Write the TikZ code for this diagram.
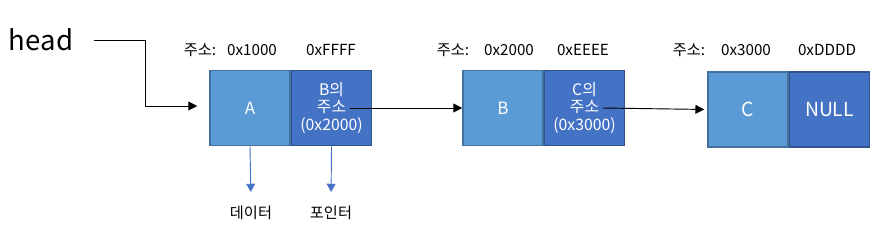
\documentclass[tikz,border=0pt]{standalone}
\usepackage{fontspec}
\setmainfont{Noto Sans CJK KR}
\usetikzlibrary{arrows.meta, positioning}

\definecolor{cellA}{HTML}{5B9BD5}
\definecolor{cellB}{HTML}{4472C4}
\definecolor{edgeA}{HTML}{41719C}
\definecolor{edgeB}{HTML}{2F528F}

\tikzset{
  datacell/.style={draw=edgeA, fill=cellA, line width=1.3pt, minimum width=2.4cm,
    minimum height=2.25cm, text=white, font=\fontsize{14.5}{16}\selectfont},
  ptrcell/.style={draw=edgeB, fill=cellB, line width=1.3pt, minimum width=2.4cm,
    minimum height=2.25cm, text=white, align=center, inner sep=0pt,
    font=\fontsize{13.5}{15.3}\selectfont},
  addr/.style={font=\fontsize{13}{15}\selectfont},
  note/.style={font=\fontsize{13}{15}\selectfont},
  link/.style={-{Triangle[length=7.5pt,width=7.5pt]}, line width=0.8pt},
  downlink/.style={-{Triangle[length=7pt,width=7.5pt]}, draw=cellB, line width=0.8pt}
}

\begin{document}
\begin{tikzpicture}[x=0.03cm, y=-0.03cm]
\useasboundingbox (0,0) rectangle (886,244);

\node[font=\fontsize{23.5}{26}\selectfont] (head) at (41,40) {head};

% node A
\node[datacell] (dA) at (250,108) {A};
\node[ptrcell, right=0pt of dA] (pA) {B의\\주소\\(0x2000)};
% node B
\node[datacell] (dB) at (503,108) {B};
\node[ptrcell, right=0pt of dB] (pB) {C의\\주소\\(0x3000)};
% node C
\node[datacell, font=\fontsize{16.5}{18}\selectfont] (dC) at (748,109.5) {C};
\node[ptrcell, right=0pt of dC, font=\fontsize{16.5}{18}\selectfont] (pC) {NULL};

% addresses
\node[addr] (kA) at (200,50) {주소:};
\node[addr] (aA) at (252,50) {0x1000};
\node[addr] (bA) at (331,50) {0xFFFF};
\node[addr] (kB) at (453,50) {주소:};
\node[addr] (aB) at (509,50) {0x2000};
\node[addr] (bB) at (583,50) {0xEEEE};
\node[addr] (kC) at (689,50) {주소:};
\node[addr] (aC) at (746,50) {0x3000};
\node[addr] (bC) at (827,50) {0xDDDD};

% links
\coordinate (hs) at (94,40);
\draw[link, shorten >=0.36cm] (hs) -| ([xshift=-1.92cm, yshift=0.06cm]dA.west) -- ([yshift=0.06cm]dA.west);
\coordinate (sA) at ([xshift=0.54cm]pA.center);
\draw[link] (sA) -- (dB.west);
\coordinate (sB) at ([xshift=0.54cm]pB.center);
\draw[link, shorten >=0.09cm] (sB) -- (dC.west);

% labels
\node[note] (lData) at (251,213) {데이터};
\node[note] (lPtr) at (331,213) {포인터};
\draw[downlink, shorten >=0.3cm] (dA.south) -- (lData.north);
\draw[downlink, shorten >=0.3cm] (pA.south) -- (lPtr.north);
\end{tikzpicture}
\end{document}
